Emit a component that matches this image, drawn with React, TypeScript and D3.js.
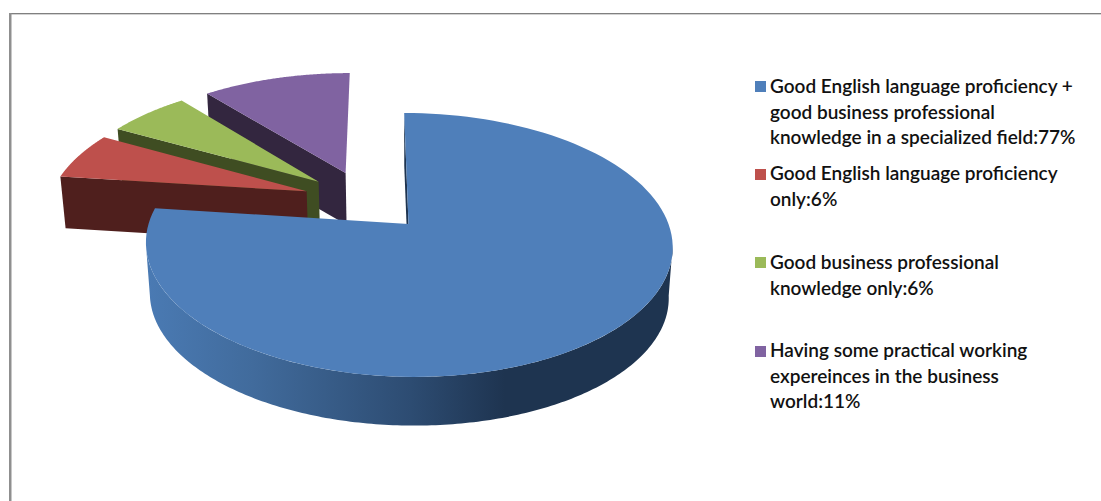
import React from "react";
import * as d3 from "d3";

const categories = [
  "Good English language proficiency + good business professional knowledge in a specialized field",
  "Good English language proficiency only",
  "Good business professional knowledge only",
  "Having some practical working expereinces in the business world",
];
const shares = [77, 6, 6, 11];
const topColors = ["#4f7fba", "#be504c", "#9bba59", "#8063a1"];
const wallColors = ["#1e3450", "#4f1f1d", "#3f4d22", "#33263f"];
const legendLines = [
  ["Good English language proficiency +", "good business professional", "knowledge in a specialized field:77%"],
  ["Good English language proficiency", "only:6%"],
  ["Good business professional", "knowledge only:6%"],
  ["Having some practical working", "expereinces in the business", "world:11%"],
];
const legendFirstBaselines = [93, 180, 269, 357];
const legendSwatchTops = [81, 169, 257, 346];

// Perspective-projected pie plane: a pie-space point (u, v) with v pointing away from the viewer.
const perspective = 0.159;
const originX = 408.5;
const originY = 224;
const scaleX = 260;
const scaleY = 128.6;
const skew = -5;
const explode = 0.25;
const depthDrop = 51;
const depthShrink = 0.985;
// Radius of each slice in pie space; the far slices sit slightly wider.
const sliceRadius = [1, 1.02, 1.02, 1.02];

type Pt = [number, number];

function project(u: number, v: number, lower: boolean): Pt {
  const w = 1 + perspective * v;
  const x = (scaleX * u) / w + (skew * v) / w;
  const y = (-scaleY * v) / w;
  return lower
    ? [originX + x * depthShrink, originY + depthDrop + y * depthShrink]
    : [originX + x, originY + y];
}

const toPath = d3.line<Pt>().x((p) => p[0]).y((p) => p[1]);

const arcs = d3.pie<number>().sort(null).value((d) => d)(shares);
const firstMid = (arcs[0].startAngle + arcs[0].endAngle) / 2;
const pieCenter: Pt = [-explode * Math.sin(firstMid), -explode * Math.cos(firstMid)];

function slicePoints(i: number) {
  const { startAngle, endAngle } = arcs[i];
  const mid = (startAngle + endAngle) / 2;
  const apexU = pieCenter[0] + explode * Math.sin(mid);
  const apexV = pieCenter[1] + explode * Math.cos(mid);
  const r = sliceRadius[i];
  const rim = (a: number, lower: boolean) =>
    project(apexU + r * Math.sin(a), apexV + r * Math.cos(a), lower);
  const apex = (lower: boolean) => project(apexU, apexV, lower);
  return { startAngle, endAngle, rim, apex };
}

function topFace(i: number): string {
  const s = slicePoints(i);
  const angles = d3.range(0, 121).map((k) => s.startAngle + ((s.endAngle - s.startAngle) * k) / 120);
  return toPath([s.apex(false), ...angles.map((a) => s.rim(a, false))])! + "Z";
}

// Wall below the radial edge at a slice's start angle.
function radialWall(i: number): string {
  const s = slicePoints(i);
  return (
    toPath([
      s.apex(false),
      s.rim(s.startAngle, false),
      s.rim(s.startAngle, true),
      s.apex(true),
    ])! + "Z"
  );
}

// Rim wall of the large slice between the outline's two silhouette angles.
function rimWall(i: number): string {
  const s = slicePoints(i);
  const from = Math.PI - Math.acos(perspective);
  const to = Math.PI + Math.acos(perspective);
  const angles = d3.range(0, 201).map((k) => from + ((to - from) * k) / 200);
  return (
    toPath([
      ...angles.map((a) => s.rim(a, false)),
      ...angles.slice().reverse().map((a) => s.rim(a, true)),
    ])! + "Z"
  );
}

const legendFont = "Lato, 'Open Sans', sans-serif";

export default function App() {
  return (
    <svg
      width={1101}
      height={501}
      style={{ position: "absolute", left: 0, top: 0, background: "#fff" }}
    >
      <defs>
        <linearGradient id="rimShade" gradientUnits="userSpaceOnUse" x1={148} x2={673} y1={0} y2={0}>
          <stop offset="0" stopColor="#4a7ab3" />
          <stop offset="0.2" stopColor="#416b9c" />
          <stop offset="0.5" stopColor="#2d4c72" />
          <stop offset="0.68" stopColor="#1e3450" />
          <stop offset="1" stopColor="#1e3450" />
        </linearGradient>
      </defs>

      {/* Chart frame: the visible top and left edges. */}
      <rect x={9} y={13} width={1092} height={1.2} fill="#808080" />
      <rect x={9} y={14.2} width={1092} height={0.8} fill="#cfcfcf" />
      <rect x={9} y={13} width={2.5} height={488} fill="#8f8f8f" />

      {/* Slices are painted back to front so nearer ones overlap the farther ones. */}
      {[3, 2, 1].map((i) => (
        <g key={categories[i]}>
          <path d={radialWall(i)} fill={wallColors[i]} />
          <path d={topFace(i)} fill={topColors[i]} />
        </g>
      ))}
      <path d={radialWall(0)} fill={wallColors[0]} />
      <path d={rimWall(0)} fill="url(#rimShade)" />
      <path d={topFace(0)} fill={topColors[0]} />

      {categories.map((c, i) => (
        <g key={c}>
          <rect x={755} y={legendSwatchTops[i]} width={11} height={11} fill={topColors[i]} />
          <text fontFamily={legendFont} fontSize={19} fontWeight={600} fill="#111">
            {legendLines[i].map((line, j) => (
              <tspan key={line} x={770} y={legendFirstBaselines[i] + j * 25.5}>
                {line}
              </tspan>
            ))}
          </text>
        </g>
      ))}
    </svg>
  );
}
